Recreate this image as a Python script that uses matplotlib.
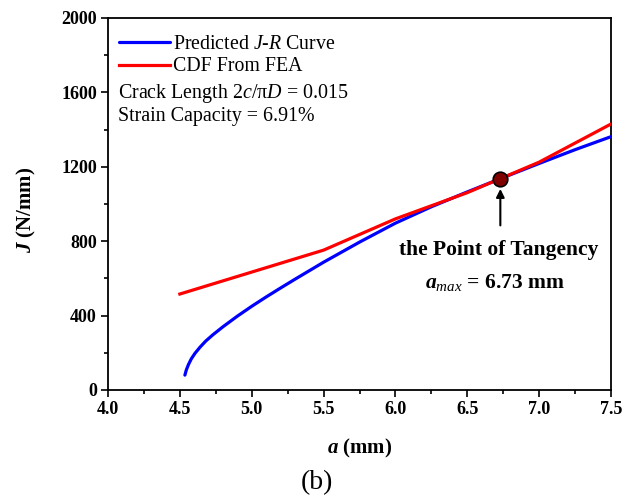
import matplotlib
matplotlib.use("Agg")
import matplotlib.pyplot as plt

plt.rcParams['font.family'] = ['Liberation Serif', 'DejaVu Serif']
plt.rcParams['mathtext.fontset'] = 'custom'
plt.rcParams['mathtext.rm'] = 'Liberation Serif'
plt.rcParams['mathtext.it'] = 'Liberation Serif:italic'
plt.rcParams['mathtext.bf'] = 'Liberation Serif:bold'
plt.rcParams['mathtext.bfit'] = 'Liberation Serif:italic:bold'

# Predicted J-R curve
jr_a = [4.535, 4.545, 4.56, 4.58, 4.605, 4.64, 4.68, 4.73, 4.80, 4.90, 5.00, 5.10,
        5.20, 5.30, 5.40, 5.50, 5.75, 6.00, 6.25, 6.50, 6.73, 7.00, 7.25, 7.50]
jr_J = [80, 108, 137, 168, 197, 230, 263, 297, 340, 397, 450, 500,
        548, 595, 641, 687, 795, 897, 985, 1065, 1136, 1218, 1292, 1362]

# CDF from FEA
cdf_a = [4.5, 5.5, 6.0, 6.5, 7.0, 7.5]
cdf_J = [516, 752, 920, 1061, 1225, 1430]

# Tangency point
tan_a = 6.73
tan_J = 1136

xticks = [4.0, 4.5, 5.0, 5.5, 6.0, 6.5, 7.0, 7.5]
yticks = [0, 400, 800, 1200, 1600, 2000]

fig = plt.figure(figsize=(6.33, 5.0), dpi=100)
ax = fig.add_axes([108/633, 1-390/500, (611-108)/633, (390-18)/500])

ax.plot(jr_a, jr_J, color='#0000ff', lw=2.3, label='Predicted $J$-$R$ Curve', zorder=3,
        solid_capstyle='round', solid_joinstyle='round')
ax.plot(cdf_a, cdf_J, color='#ff0000', lw=2.3, label='CDF From FEA', zorder=3,
        solid_joinstyle='round')
ax.plot([tan_a], [tan_J], 'o', ms=10.5, mfc='#800000', mec='black', mew=1.2, zorder=5)

ax.set_xlim(4.0, 7.5)
ax.set_ylim(0, 2000)
ax.set_xticks(xticks)
ax.set_yticks(yticks)
ax.set_xticklabels([f"{v:.1f}" for v in xticks], fontsize=13, fontweight='bold')
ax.set_yticklabels([str(v) for v in yticks], fontsize=13, fontweight='bold')
ax.set_xticks([v + 0.25 for v in xticks[:-1]], minor=True)
ax.set_yticks([v + 200 for v in yticks[:-1]], minor=True)
ax.tick_params(which='major', direction='out', length=5, width=1.2, pad=3)
ax.tick_params(which='minor', direction='out', length=3, width=1.2)
for s in ax.spines.values():
    s.set_linewidth(1.3)

ax.set_xlabel(r'$\mathbfit{a}$ (mm)', fontsize=15, fontweight='bold')
ax.set_ylabel(r'$\mathbfit{J}$ (N/mm)', fontsize=15, fontweight='bold')
ax.xaxis.set_label_coords(0.501, -0.125)
ax.yaxis.set_label_coords(-0.14, 0.484)

leg = ax.legend(loc='upper left', bbox_to_anchor=(0.0, 0.985), frameon=False,
                fontsize=14.3, handlelength=2.55, handletextpad=0.15, labelspacing=0.2,
                borderaxespad=0.3, borderpad=0.25)
ax.text(0.019, 0.796, 'Crack Length 2$c$/π$D$ = 0.015', transform=ax.transAxes,
        fontsize=14.4, va='center', ha='left')
ax.text(0.019, 0.734, 'Strain Capacity = 6.91%', transform=ax.transAxes,
        fontsize=14.4, va='center', ha='left')

ax.annotate('', xy=(tan_a, tan_J - 40), xytext=(tan_a, 870),
            arrowprops=dict(arrowstyle='-|>', color='black', lw=1.5, mutation_scale=12))
ax.text(6.72, 755, 'the Point of Tangency', fontsize=15.5, fontweight='bold',
        ha='center', va='center')
ax.text(6.69, 580, r'$\mathbfit{a}_{max}$ = 6.73 mm', fontsize=15.5, fontweight='bold',
        ha='center', va='center')

fig.text(0.5, 1-483/500, '(b)', fontsize=20, ha='center', va='center')

fig.savefig('out.png', dpi=100)
